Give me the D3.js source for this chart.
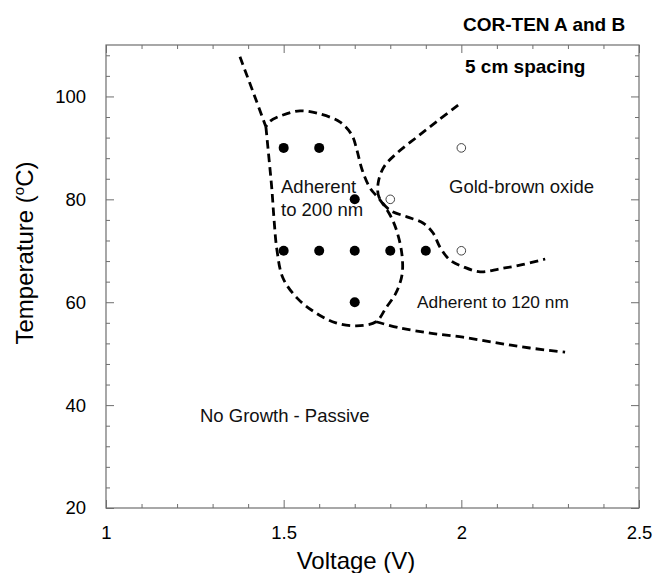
<!DOCTYPE html>
<html>
<head>
<meta charset="utf-8">
<script src="https://cdn.jsdelivr.net/npm/d3@7"></script>
<style>
  html, body { margin: 0; padding: 0; background: #fff; }
  svg { display: block; font-family: "Liberation Sans", Arial, sans-serif; }
</style>
</head>
<body>
<svg id="chart" width="653" height="573"></svg>
<script>
// Axis ticks
const xMajorTicks = [1, 1.5, 2, 2.5];
const xTickLabels = ["1", "1.5", "2", "2.5"];
const yMajorTicks = [20, 40, 60, 80, 100];
const yTickLabels = ["20", "40", "60", "80", "100"];

// Test conditions: voltage (V) and temperature (°C)
const adherentV = [1.5, 1.6, 1.7, 1.5, 1.6, 1.7, 1.8, 1.9, 1.7];
const adherentT = [90, 90, 80, 70, 70, 70, 70, 70, 60];
const oxideV = [2.0, 1.8, 2.0];
const oxideT = [90, 80, 70];

// Region boundaries [voltage, temperature]
const upperLeftTail = [[1.377, 107.7], [1.417, 100.3], [1.450, 94.1]];
const adherent200Loop = [
  [1.450, 94.1], [1.459, 87.7], [1.467, 81.8], [1.473, 76.0], [1.481, 70.2],
  [1.498, 64.7], [1.538, 60.8], [1.591, 57.9], [1.647, 56.0], [1.704, 55.4],
  [1.760, 56.2], [1.788, 58.9], [1.816, 61.8], [1.833, 65.3], [1.833, 69.2],
  [1.819, 73.7], [1.799, 77.0], [1.771, 79.9], [1.743, 82.2], [1.721, 85.7],
  [1.706, 89.6], [1.692, 92.5], [1.659, 95.0], [1.602, 96.6], [1.546, 97.2],
  [1.498, 96.4], [1.462, 95.2], [1.450, 94.1]
];
const oxideBoundary = [
  [1.991, 98.3], [1.932, 95.2], [1.875, 92.1], [1.819, 89.0], [1.782, 86.3],
  [1.766, 83.2], [1.768, 80.5], [1.799, 77.9], [1.847, 76.6], [1.892, 75.4],
  [1.920, 73.5], [1.940, 70.7], [1.968, 68.2], [2.005, 66.9], [2.053, 65.9],
  [2.109, 66.5], [2.165, 67.2], [2.236, 68.4]
];
const passiveBoundary = [
  [1.760, 56.2], [1.827, 55.0], [1.912, 54.0], [2.005, 53.2], [2.100, 52.1],
  [2.193, 51.1], [2.292, 50.3]
];

const svg = d3.select("#chart");
const plotLeft = 106, plotRight = 639, plotTop = 45, plotBottom = 508;

const x = d3.scaleLinear().domain([1, 2.5]).range([plotLeft, plotRight]);
const y = d3.scaleLinear().domain([20, 110]).range([plotBottom, plotTop]);

const axisColor = "#6e6e6e";
const xMinor = d3.range(1, 2.5001, 0.1).map(v => +v.toFixed(2)).filter(v => !xMajorTicks.includes(v));
const yMinor = d3.range(20, 110, 4).filter(v => !yMajorTicks.includes(v));

function styleAxis(g) {
  g.select(".domain").remove();
  g.selectAll(".tick line").attr("stroke", axisColor).attr("stroke-width", 1);
  g.selectAll(".tick text").attr("fill", "#000").attr("font-size", 18.5)
    .attr("font-family", "Liberation Sans, Arial, sans-serif");
}

// bottom axis
svg.append("g").attr("transform", `translate(0,${plotBottom})`)
  .call(d3.axisBottom(x).tickValues(xMajorTicks).tickSize(-8).tickPadding(18)
    .tickFormat((d, i) => xTickLabels[i]))
  .call(styleAxis);
svg.append("g").attr("transform", `translate(0,${plotBottom})`)
  .call(d3.axisBottom(x).tickValues(xMinor).tickSize(-4).tickFormat(""))
  .call(styleAxis);
// top axis
svg.append("g").attr("transform", `translate(0,${plotTop})`)
  .call(d3.axisTop(x).tickValues(xMajorTicks).tickSize(-8).tickFormat(""))
  .call(styleAxis);
svg.append("g").attr("transform", `translate(0,${plotTop})`)
  .call(d3.axisTop(x).tickValues(xMinor).tickSize(-4).tickFormat(""))
  .call(styleAxis);
// left axis
svg.append("g").attr("transform", `translate(${plotLeft},0)`)
  .call(d3.axisLeft(y).tickValues(yMajorTicks).tickSize(-8).tickPadding(20)
    .tickFormat((d, i) => yTickLabels[i]))
  .call(styleAxis);
svg.append("g").attr("transform", `translate(${plotLeft},0)`)
  .call(d3.axisLeft(y).tickValues(yMinor).tickSize(-4).tickFormat(""))
  .call(styleAxis);
// right axis
svg.append("g").attr("transform", `translate(${plotRight},0)`)
  .call(d3.axisRight(y).tickValues(yMajorTicks).tickSize(-8).tickFormat(""))
  .call(styleAxis);
svg.append("g").attr("transform", `translate(${plotRight},0)`)
  .call(d3.axisRight(y).tickValues(yMinor).tickSize(-4).tickFormat(""))
  .call(styleAxis);

// frame
svg.append("rect")
  .attr("x", plotLeft).attr("y", plotTop)
  .attr("width", plotRight - plotLeft).attr("height", plotBottom - plotTop)
  .attr("fill", "none").attr("stroke", axisColor).attr("stroke-width", 1.2);

// dashed boundaries
const line = d3.line().x(d => x(d[0])).y(d => y(d[1])).curve(d3.curveCatmullRom.alpha(0.5));
[upperLeftTail, adherent200Loop, oxideBoundary, passiveBoundary].forEach(pts => {
  svg.append("path")
    .attr("d", line(pts))
    .attr("fill", "none")
    .attr("stroke", "#000")
    .attr("stroke-width", 2.8)
    .attr("stroke-dasharray", "8.5,5");
});

// points
svg.append("g").selectAll("circle")
  .data(adherentV.map((v, i) => [v, adherentT[i]]))
  .join("circle")
  .attr("cx", d => x(d[0])).attr("cy", d => y(d[1]))
  .attr("r", 5).attr("fill", "#000");

svg.append("g").selectAll("circle")
  .data(oxideV.map((v, i) => [v, oxideT[i]]))
  .join("circle")
  .attr("cx", d => x(d[0])).attr("cy", d => y(d[1]))
  .attr("r", 4.3).attr("fill", "#fff").attr("stroke", "#444").attr("stroke-width", 1);

// region labels
const labels = [
  { text: "Adherent", px: 281, py: 193, size: 18.5 },
  { text: "to 200 nm", px: 281, py: 215.5, size: 18.5 },
  { text: "Gold-brown oxide", px: 449, py: 192.5, size: 18.5 },
  { text: "Adherent to 120 nm", px: 417, py: 308, size: 17.3 },
  { text: "No Growth - Passive", px: 200, py: 421.5, size: 18.5 }
];
svg.append("g").selectAll("text")
  .data(labels)
  .join("text")
  .attr("x", d => d.px).attr("y", d => d.py)
  .attr("font-size", d => d.size).attr("fill", "#111")
  .text(d => d.text);

// headings
svg.append("text").attr("x", 463).attr("y", 31)
  .attr("font-size", 19).attr("font-weight", "bold").text("COR-TEN A and B");
svg.append("text").attr("x", 465).attr("y", 73)
  .attr("font-size", 19).attr("font-weight", "bold").text("5 cm spacing");

// axis titles
svg.append("text")
  .attr("x", 356).attr("y", 569)
  .attr("text-anchor", "middle").attr("font-size", 24)
  .text("Voltage (V)");

const yTitle = svg.append("text")
  .attr("transform", "translate(33,253) rotate(-90)")
  .attr("text-anchor", "middle").attr("font-size", 24);
yTitle.append("tspan").text("Temperature (");
yTitle.append("tspan").attr("font-size", 15).attr("dy", -9).text("o");
yTitle.append("tspan").attr("dy", 9).text("C)");
</script>
</body>
</html>
